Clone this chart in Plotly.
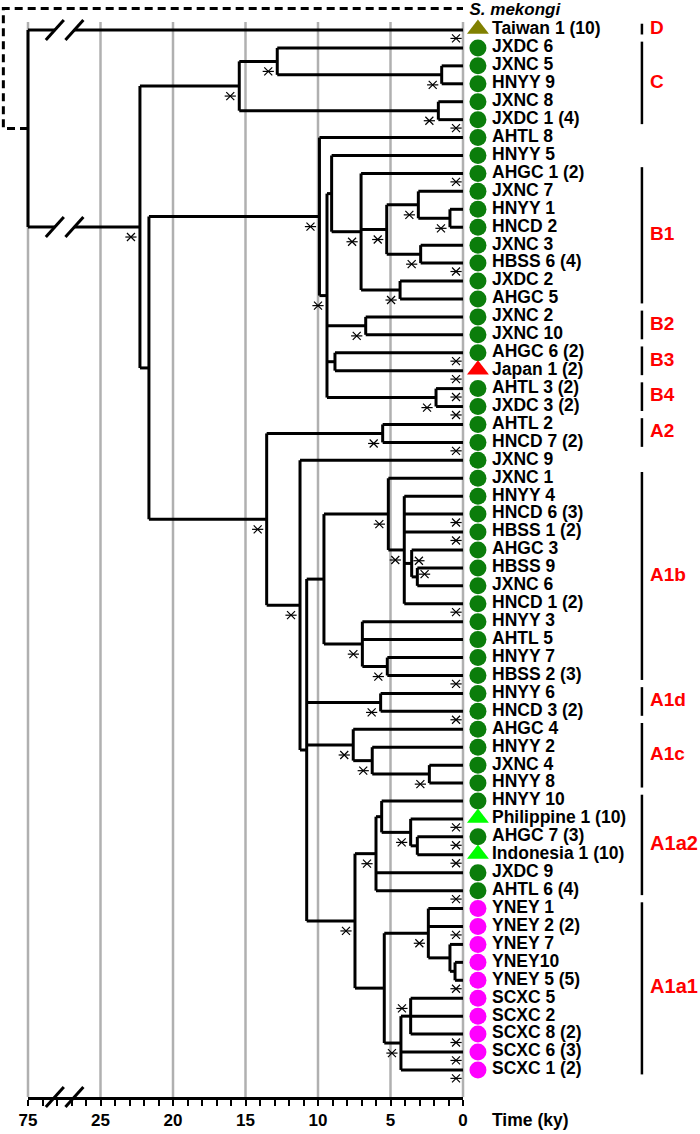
import plotly.graph_objects as go

# ---------------- data ----------------
tip_labels = ["Taiwan 1 (10)", "JXDC 6", "JXNC 5", "HNYY 9", "JXNC 8", "JXDC 1 (4)", "AHTL 8", "HNYY 5",
              "AHGC 1 (2)", "JXNC 7", "HNYY 1", "HNCD 2", "JXNC 3", "HBSS 6 (4)", "JXDC 2", "AHGC 5",
              "JXNC 2", "JXNC 10", "AHGC 6 (2)", "Japan 1 (2)", "AHTL 3 (2)", "JXDC 3 (2)", "AHTL 2",
              "HNCD 7 (2)", "JXNC 9", "JXNC 1", "HNYY 4", "HNCD 6 (3)", "HBSS 1 (2)", "AHGC 3", "HBSS 9",
              "JXNC 6", "HNCD 1 (2)", "HNYY 3", "AHTL 5", "HNYY 7", "HBSS 2 (3)", "HNYY 6", "HNCD 3 (2)",
              "AHGC 4", "HNYY 2", "JXNC 4", "HNYY 8", "HNYY 10", "Philippine 1 (10)", "AHGC 7 (3)",
              "Indonesia 1 (10)", "JXDC 9", "AHTL 6 (4)", "YNEY 1", "YNEY 2 (2)", "YNEY 7", "YNEY10",
              "YNEY 5 (5)", "SCXC 5", "SCXC 2", "SCXC 8 (2)", "SCXC 6 (3)", "SCXC 1 (2)"]

tip_region = ["Taiwan"] + ["Mainland"] * 18 + ["Japan"] + ["Mainland"] * 24 + ["SEAsia", "Mainland", "SEAsia",
              "Mainland", "Mainland"] + ["Southwest"] * 10

supported_tips = ["Taiwan 1 (10)", "JXDC 1 (4)", "AHGC 1 (2)", "HBSS 6 (4)", "AHGC 6 (2)", "Japan 1 (2)",
                  "AHTL 3 (2)", "JXDC 3 (2)", "HNCD 7 (2)", "HNCD 6 (3)", "HBSS 1 (2)", "HNCD 1 (2)",
                  "HBSS 2 (3)", "HNCD 3 (2)", "Philippine 1 (10)", "AHGC 7 (3)", "Indonesia 1 (10)",
                  "AHTL 6 (4)", "YNEY 2 (2)", "YNEY 5 (5)", "SCXC 8 (2)", "SCXC 6 (3)", "SCXC 1 (2)"]

node_names = ["root", "N1", "C", "C1", "C1a", "C2", "N2", "B", "B0", "B1a", "B1", "B1b", "B1d", "B1f", "B1e",
              "B1c", "B2", "B3", "B4", "A", "A2", "A0", "A1", "A1b", "A1b1", "A1b2", "A1b3", "A1b4", "A1b5",
              "A1b6", "A1d", "A1c", "A1c1", "A1c2", "A1a", "A1a2", "A1a2b", "A1a2c", "A1a2d", "A1a1", "Y0",
              "Y1", "Y2", "S0", "S1"]
node_times = [75, 22.28, 15.43, 12.81, 1.47, 1.70, 21.66, 9.90, 9.38, 9.06, 7.03, 5.26, 3.08, 0.90, 2.92,
              4.34, 6.71, 8.83, 1.86, 13.54, 5.54, 11.24, 10.78, 9.59, 5.15, 4.05, 3.54, 3.15, 6.94,
              5.22, 5.68, 7.57, 6.26, 2.32, 7.45, 6.00, 5.61, 3.61, 3.15, 5.43, 2.39,
              0.90, 0.55, 4.28, 3.61]
node_children = [
    ["Taiwan 1 (10)", "N1"], ["C", "N2"], ["C1", "C2"], ["JXDC 6", "C1a"], ["JXNC 5", "HNYY 9"],
    ["JXNC 8", "JXDC 1 (4)"], ["B", "A"], ["AHTL 8", "B0"], ["B1a", "B2", "B3", "B4"], ["HNYY 5", "B1"],
    ["AHGC 1 (2)", "B1b", "B1c"], ["B1d", "B1e"], ["JXNC 7", "B1f"], ["HNYY 1", "HNCD 2"],
    ["JXNC 3", "HBSS 6 (4)"], ["JXDC 2", "AHGC 5"], ["JXNC 2", "JXNC 10"], ["AHGC 6 (2)", "Japan 1 (2)"],
    ["AHTL 3 (2)", "JXDC 3 (2)"], ["A2", "A0"], ["AHTL 2", "HNCD 7 (2)"], ["JXNC 9", "A1"],
    ["A1b", "A1d", "A1c", "A1a"], ["A1b1", "A1b5"], ["JXNC 1", "A1b2"],
    ["HNYY 4", "HNCD 6 (3)", "HBSS 1 (2)", "A1b3", "HNCD 1 (2)"], ["AHGC 3", "A1b4"], ["HBSS 9", "JXNC 6"],
    ["HNYY 3", "AHTL 5", "A1b6"], ["HNYY 7", "HBSS 2 (3)"], ["HNYY 6", "HNCD 3 (2)"], ["AHGC 4", "A1c1"],
    ["HNYY 2", "A1c2"], ["JXNC 4", "HNYY 8"], ["A1a2", "A1a1"], ["A1a2b", "JXDC 9", "AHTL 6 (4)"],
    ["HNYY 10", "A1a2c"], ["Philippine 1 (10)", "A1a2d"], ["AHGC 7 (3)", "Indonesia 1 (10)"], ["Y0", "S0"],
    ["YNEY 1", "YNEY 2 (2)", "Y1"], ["YNEY 7", "Y2"], ["YNEY10", "YNEY 5 (5)"],
    ["S1", "SCXC 6 (3)", "SCXC 1 (2)"], ["SCXC 5", "SCXC 2", "SCXC 8 (2)"]]
# support asterisk: '' none, 'bl' below-left, 'r' right, 'al' above-left
node_support = ["", "bl", "bl", "bl", "bl", "bl", "", "bl", "bl", "", "bl", "bl", "bl", "bl", "bl",
                "bl", "bl", "", "bl", "bl", "bl", "bl", "", "", "bl", "bl", "r", "r", "bl",
                "bl", "bl", "bl", "bl", "bl", "bl", "bl", "", "bl", "", "", "bl",
                "", "", "bl", "al"]

clade_names = ["D", "C", "B1", "B2", "B3", "B4", "A2", "A1b", "A1d", "A1c", "A1a2", "A1a1"]
clade_first = ["Taiwan 1 (10)", "JXDC 6", "AHGC 1 (2)", "JXNC 2", "AHGC 6 (2)", "AHTL 3 (2)", "AHTL 2",
               "JXNC 1", "HNYY 6", "AHGC 4", "HNYY 10", "YNEY 1"]
clade_last = ["Taiwan 1 (10)", "JXDC 1 (4)", "AHGC 5", "JXNC 10", "Japan 1 (2)", "JXDC 3 (2)", "HNCD 7 (2)",
              "HBSS 2 (3)", "HNCD 3 (2)", "HNYY 8", "AHTL 6 (4)", "SCXC 1 (2)"]

outgroup_label = "S. mekongi"
outgroup_time = 92
axis_ticks_ky = [75, 25, 20, 15, 10, 5, 0]
axis_tick_text = ["75", "25", "20", "15", "10", "5", "0"]
axis_title = "Time (ky)"

region_color = {"Taiwan": "#808000", "Mainland": "#0b7d0b", "Japan": "#ff0000",
                "SEAsia": "#00ff00", "Southwest": "#ff00ff"}
region_symbol = {"Taiwan": "triangle-up", "Mainland": "circle", "Japan": "triangle-up",
                 "SEAsia": "triangle-up", "Southwest": "circle"}

FONT = "Liberation Sans, Arial, sans-serif"


# ------------- scale helpers -------------
def u(t):
    """broken time axis: 25-75 ky compressed tenfold"""
    return t if t <= 25 else 25 + (t - 25) / 10.0


row = {lab: i + 1 for i, lab in enumerate(tip_labels)}
kids = dict(zip(node_names, node_children))
ntime = dict(zip(node_names, node_times))
ypos = {}


def place(n):
    if n in row:
        ypos[n] = row[n]
        return
    for c in kids[n]:
        place(c)
    ys = [ypos[c] for c in kids[n]]
    ypos[n] = (min(ys) + max(ys)) / 2.0


place("root")


def tt(n):
    return ntime.get(n, 0.0)


# ------------- tree segments -------------
lx, ly = [], []
BR1, BR2 = 28.15, 26.8  # break marks on the root branches
for n in node_names:
    ch = kids[n]
    xn = u(tt(n))
    ys = [ypos[c] for c in ch]
    lx += [xn, xn, None]
    ly += [min(ys), max(ys), None]
    for c in ch:
        xc = u(tt(c))
        if n == "root":
            lx += [xn, BR1, None, BR2, xc, None]
            ly += [ypos[c], ypos[c], None, ypos[c], ypos[c], None]
        else:
            lx += [xn, xc, None]
            ly += [ypos[c], ypos[c], None]

# break slashes
sx, sy = [], []
for yb in [ypos[c] for c in kids["root"]] + [60.51]:
    for xb in (BR1, BR2):
        sx += [xb + 0.62, xb - 0.62, None]
        sy += [yb + 0.56, yb - 0.56, None]

# outgroup dashed connection
y_out = -0.2
ox = [u(75), u(outgroup_time), u(outgroup_time), 0]
oy = [ypos["root"], ypos["root"], y_out, y_out]

# gridlines
gx, gy = [], []
for t in axis_ticks_ky:
    gx += [u(t), u(t), None]
    gy += [0.55, 60.51, None]

# support asterisks
stx, sty = [], []
for lab in supported_tips:
    stx.append(0.48)
    sty.append(row[lab] + 0.47)
for n, s in zip(node_names, node_support):
    if not s:
        continue
    xn, yn = u(tt(n)), ypos[n]
    if s == "bl":
        stx.append(xn + 0.62); sty.append(yn + 0.56)
    elif s == "r":
        stx.append(xn - 0.5); sty.append(yn - 0.15)
    elif s == "al":
        stx.append(xn + 0.6); sty.append(yn - 0.43)

NOHOV = dict(hoverinfo="skip", showlegend=False)
fig = go.Figure()
fig.add_trace(go.Scatter(x=gx, y=gy, mode="lines", line=dict(color="#b0b0b0", width=2.5), **NOHOV))
fig.add_trace(go.Scatter(x=ox, y=oy, mode="lines", line=dict(color="black", width=3, dash="8px,5px"),
                         **NOHOV))
fig.add_trace(go.Scatter(x=lx, y=ly, mode="lines", line=dict(color="black", width=3), **NOHOV))
fig.add_trace(go.Scatter(x=sx, y=sy, mode="lines", line=dict(color="black", width=3), **NOHOV))
for sym in ("x-thin-open", "line-ew-open"):
    fig.add_trace(go.Scatter(x=stx, y=sty, mode="markers",
                             marker=dict(symbol=sym, size=8, color="black",
                                         line=dict(color="black", width=1.2)), **NOHOV))

# tip markers
for reg in ["Taiwan", "Mainland", "Japan", "SEAsia", "Southwest"]:
    ys = [row[l] for l, r in zip(tip_labels, tip_region) if r == reg]
    sym = region_symbol[reg]
    fig.add_trace(go.Scatter(x=[-1.03] * len(ys), y=[y - (0.05 if sym != "circle" else 0) for y in ys],
                             mode="markers", cliponaxis=False,
                             marker=dict(symbol=sym, size=19 if sym != "circle" else 17,
                                         color=region_color[reg], line=dict(width=0)), **NOHOV))

TXT = dict(mode="text", cliponaxis=False, **NOHOV)
# tip labels
fig.add_trace(go.Scatter(x=[-2.0] * len(tip_labels), y=[row[l] for l in tip_labels], text=tip_labels,
                         textposition="middle right",
                         textfont=dict(family=FONT, size=17.5, color="black", weight="bold"), **TXT))
fig.add_trace(go.Scatter(x=[-0.45], y=[y_out + 0.12], text=[outgroup_label], textposition="middle right",
                         textfont=dict(family=FONT, size=17, color="black", weight="bold", style="italic"),
                         **TXT))
fig.add_trace(go.Scatter(x=[-2.0], y=[61.9], text=[axis_title], textposition="middle right",
                         textfont=dict(family=FONT, size=17.5, color="black", weight="bold"), **TXT))

# clade bars and labels
bx, by, cx_l, cy_l, ct_l, cx_r, cy_r, ct_r = [], [], [], [], [], [], [], []
for name, f, l in zip(clade_names, clade_first, clade_last):
    y0, y1 = row[f] - 0.35, row[l] + 0.25
    bx += [-12.34, -12.34, None]
    by += [y0, y1, None]
    if len(name) <= 3:
        cx_l.append(-12.9); cy_l.append((y0 + y1) / 2); ct_l.append(name)
    else:
        cx_r.append(-16.2); cy_r.append((y0 + y1) / 2); ct_r.append(name)
fig.add_trace(go.Scatter(x=bx, y=by, mode="lines", line=dict(color="black", width=2.5), **NOHOV))
fig.add_trace(go.Scatter(x=cx_l, y=cy_l, text=ct_l, textposition="middle right",
                         textfont=dict(family=FONT, size=19, color="#ff0000", weight="bold"), **TXT))
fig.add_trace(go.Scatter(x=cx_r, y=cy_r, text=ct_r, textposition="middle left",
                         textfont=dict(family=FONT, size=20, color="#ff0000", weight="bold"), **TXT))

# axis carrier trace
fig.add_trace(go.Scatter(x=[0], y=[0.5], xaxis="x2", yaxis="y2", mode="markers",
                         marker=dict(opacity=0), **NOHOV))

W, H = 700, 1134
X0 = 463          # pixel of 0 ky
PX = 14.5         # pixels per ky
Y1 = 30           # pixel of first row
RS = 17.93        # pixels per row
AXY = 1097        # pixel of the time axis line
fig.update_layout(
    width=W, height=H, autosize=False, margin=dict(l=0, r=0, t=0, b=0, pad=0, autoexpand=False),
    paper_bgcolor="white", plot_bgcolor="rgba(0,0,0,0)", showlegend=False,
    xaxis=dict(range=[X0 / PX, (X0 - W) / PX], visible=False, domain=[0, 1], automargin=False),
    yaxis=dict(range=[1 + (H - Y1) / RS, 1 - Y1 / RS], visible=False, domain=[0, 1], automargin=False),
    xaxis2=dict(domain=[(X0 - u(75) * PX) / W, X0 / W], range=[u(75), 0], anchor="y2", showline=True,
                automargin=False, linecolor="black", linewidth=3, showgrid=False, zeroline=False,
                ticks="outside", ticklen=6, tickwidth=2, tickcolor="black",
                tickvals=[u(t) for t in axis_ticks_ky], ticktext=axis_tick_text,
                tickfont=dict(family=FONT, size=17, color="black", weight="bold"),
                minor=dict(tickvals=list(range(0, 31)), ticks="outside", ticklen=6, tickwidth=2,
                           tickcolor="black", showgrid=False)),
    yaxis2=dict(domain=[1 - AXY / H, 1], range=[0, 1], anchor="x2", visible=False, automargin=False),
)

fig.write_html("out.html", config={"displayModeBar": False, "staticPlot": True},
               post_script="document.body.style.margin='0px';")
